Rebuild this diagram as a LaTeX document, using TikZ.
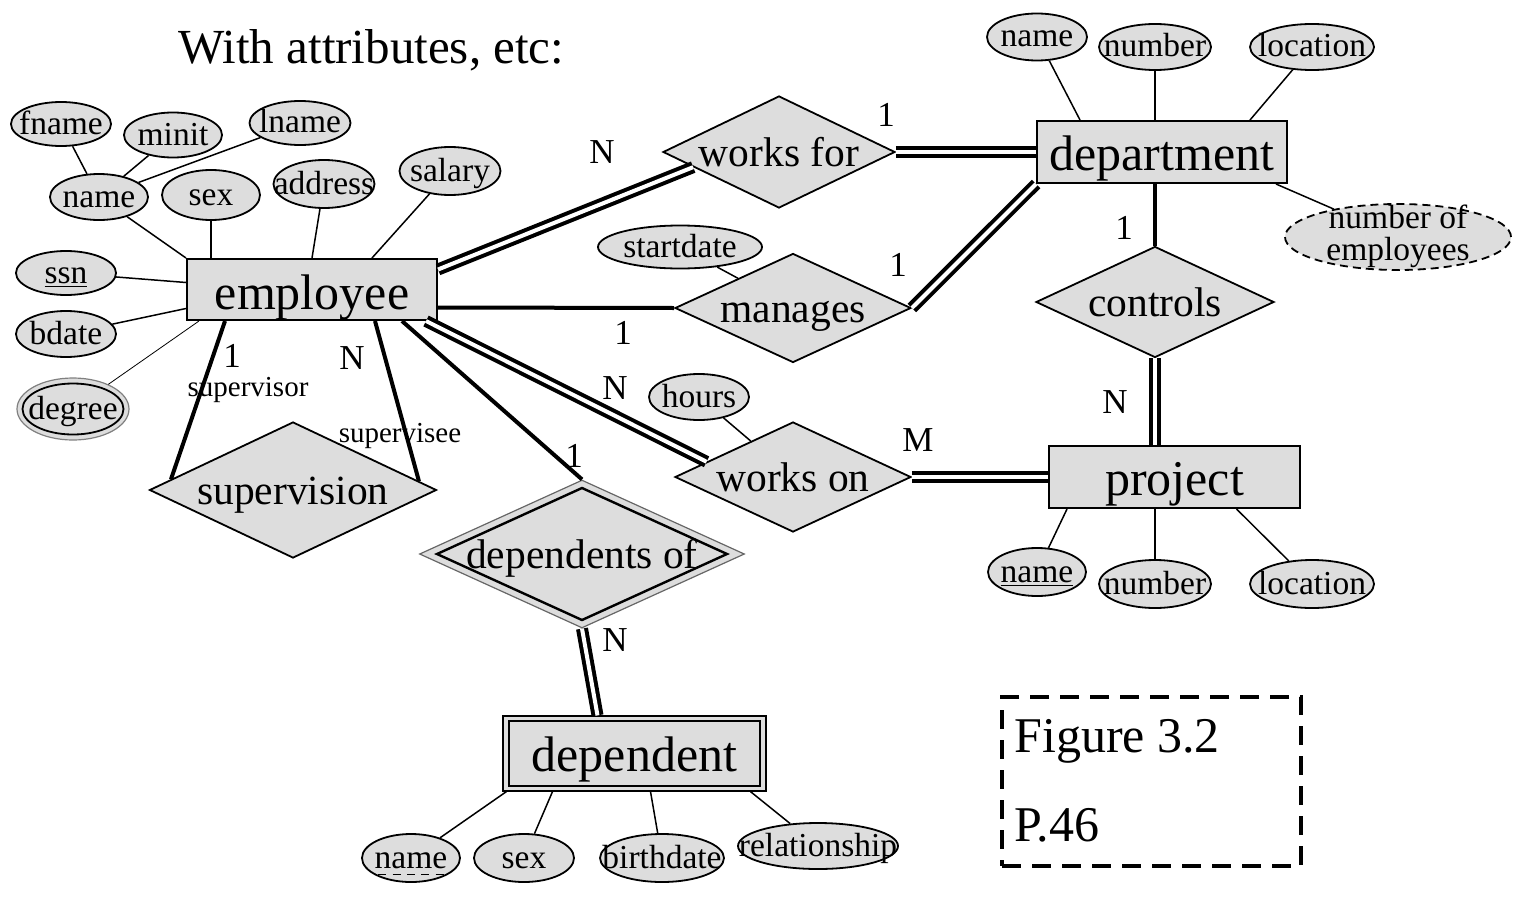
\documentclass[tikz,border=0pt]{standalone}
\usepackage{fontspec}
\setmainfont{Liberation Serif}
\usetikzlibrary{shapes.geometric}
\definecolor{shade}{RGB}{221,221,221}
\newcommand{\midtext}[1]{\makebox[0pt]{#1}}
\newcommand{\dashunder}[1]{\setbox0=\hbox{#1}\rlap{\raisebox{-3.5pt}{\hbox to \wd0{\xleaders\hbox to 6.5pt{\hfil\rule{4pt}{0.7pt}\hfil}\hfill}}}\box0}
\tikzset{entity/.style = {shape=rectangle,draw,fill=shade,line width=1pt,inner sep=0pt,minimum width=125pt,minimum height=31pt,text height=20pt,text depth=2pt,font=\fontsize{25}{28}\selectfont}}
\tikzset{relation/.style = {shape=diamond,draw,fill=shade,line width=0.9pt,inner sep=0pt,text height=14pt,text depth=0pt,font=\fontsize{20.75}{24}\selectfont}}
\tikzset{attr/.style = {shape=ellipse,draw,fill=shade,line width=0.9pt,inner sep=0pt,minimum width=50pt,minimum height=23pt,text height=10.5pt,text depth=0.5pt,font=\fontsize{16.75}{19}\selectfont}}
\tikzset{link/.style = {line width=0.75pt}}
\tikzset{onerel/.style = {line width=2pt}}
\tikzset{totalrel/.style = {line width=2pt,double,double distance=2pt}}
\tikzset{card/.style = {inner sep=0pt,font=\fontsize{17.5}{20}\selectfont}}
\tikzset{role/.style = {inner sep=0pt,font=\fontsize{14.5}{17}\selectfont}}

\begin{document}
\begin{tikzpicture}[x=0.5pt, y=-0.5pt]
        \useasboundingbox (0,0) rectangle (1513,899);

        \node[anchor=base west, inner sep=0pt, font=\fontsize{24.5}{28}\selectfont] (title) at (178,64) {With attributes, etc:};

        % entities
        \node[entity, minimum height=30.5pt, text height=22pt] (employee) at (312,289.5) {employee};
        \node[entity] (department) at (1162,152) {department};
        \node[entity, minimum width=125.5pt] (project) at (1174.5,477) {project};
        \node[entity, minimum width=131.5pt, minimum height=37.5pt, line width=0.6pt] (dependent) at (634.5,753.5) {};
        \node[entity, minimum width=125.5pt, minimum height=32.5pt, line width=1.3pt] (dependentin) at (dependent) {dependent};

        % relationships
        \node[relation, minimum width=116pt, minimum height=56pt] (worksfor) at (779,152) {\midtext{works for}};
        \node[relation, minimum width=118pt, minimum height=54.5pt] (manages) at (793,308) {\midtext{manages}};
        \node[relation, minimum width=119pt, minimum height=55.5pt] (controls) at (1155,302) {\midtext{controls}};
        \node[relation, minimum width=118pt, minimum height=55pt] (workson) at (793,477) {\midtext{works on}};
        \node[relation, minimum width=143.5pt, minimum height=68pt] (supervision) at (293,490) {\midtext{supervision}};
        \node[relation, minimum width=162.5pt, minimum height=74pt, draw=black!60, line width=0.6pt] (dependentsof) at (582,554) {};
        \node[relation, minimum width=145.5pt, minimum height=66.5pt, line width=1.2pt] (dependentsofin) at (dependentsof) {\midtext{dependents of}};

        % attributes
        \node[attr, minimum width=50pt, minimum height=22pt] (fname) at (61,124) {\midtext{fname}};
        \node[attr, minimum width=49pt, minimum height=22.5pt] (minit) at (173,135) {\midtext{minit}};
        \node[attr, minimum width=50.5pt, minimum height=22pt] (lname) at (300,123) {\midtext{lname}};
        \node[attr, minimum width=49pt, minimum height=23pt] (name) at (99,197) {\midtext{name}};
        \node[attr, minimum width=49pt, minimum height=25pt] (sex) at (211,195) {\midtext{sex}};
        \node[attr, minimum width=50.5pt, minimum height=24pt] (address) at (324,184) {\midtext{address}};
        \node[attr, minimum width=50.5pt, minimum height=24pt] (salary) at (450,171) {\midtext{salary}};
        \node[attr, minimum width=50pt, minimum height=22pt] (ssn) at (66,273) {\midtext{\underline{ssn}}};
        \node[attr, minimum width=50pt, minimum height=23pt] (bdate) at (66,334) {\midtext{bdate}};
        \node[attr, minimum width=56pt, minimum height=31pt, draw=black!50, line width=0.6pt] (degree) at (73,409) {};
        \node[attr, minimum width=50.5pt, minimum height=25.5pt] (degreein) at (degree) {\midtext{degree}};
        \node[attr, minimum width=82pt, minimum height=21.5pt] (startdate) at (680,247) {\midtext{startdate}};
        \node[attr, minimum width=50pt, minimum height=23pt] (hours) at (699,397) {\midtext{hours}};
        \node[attr, minimum width=50pt, minimum height=23.5pt] (dname) at (1037,37) {\midtext{name}};
        \node[attr, minimum width=56pt, minimum height=23pt] (dnumber) at (1155,47) {\midtext{number}};
        \node[attr, minimum width=62pt, minimum height=23pt] (dlocation) at (1312,47) {\midtext{location}};
        \node[attr, dashed, dash pattern=on 4pt off 2.5pt, minimum width=113pt, minimum height=33pt, text height=8.4pt, text depth=0pt] (numemp) at (1398,237) {\midtext{\begin{tabular}{@{}c@{}}number of\\[-3pt]employees\end{tabular}}};
        \node[attr, minimum width=49pt, minimum height=24pt] (pname) at (1037,572) {\midtext{\underline{name}}};
        \node[attr, minimum width=56pt, minimum height=24pt] (pnumber) at (1155,584) {\midtext{number}};
        \node[attr, minimum width=62pt, minimum height=24pt] (plocation) at (1312,584) {\midtext{location}};
        \node[attr, minimum width=49pt, minimum height=24pt] (depname) at (411,858) {\midtext{\dashunder{name}}};
        \node[attr, minimum width=50pt, minimum height=24pt] (depsex) at (524,858) {\midtext{sex}};
        \node[attr, minimum width=62pt, minimum height=24pt] (depbirth) at (662,858) {\midtext{birthdate}};
        \node[attr, minimum width=80pt, minimum height=23pt] (deprel) at (818,846) {\midtext{relationship}};

        % attribute links
        \draw[link] (fname) to (name);
        \draw[link] (minit) to (name);
        \draw[link] (lname) to (name);
        \draw[link] (name) to (employee.north west);
        \draw[link] (sex) to (sex |- employee.north);
        \draw[link] (address) to (employee.north);
        \draw[link] (salary) to ([xshift=30pt]employee.north);
        \draw[link] (ssn) to ([yshift=3.5pt]employee.west);
        \draw[link] (bdate) to ([yshift=-9.5pt]employee.west);
        \draw[line width=0.4pt] (degree) to ([xshift=6.5pt]employee.south west);
        \draw[link] (dname) to ([xshift=-41pt]department.north);
        \draw[link] (dnumber) to (dnumber |- department.north);
        \draw[link] (dlocation) to ([xshift=44pt]department.north);
        \draw[link] (numemp) to ([xshift=-6pt]department.south east);
        \draw[link] (pname) to ([xshift=9.5pt]project.south west);
        \draw[link] (pnumber) to (pnumber |- project.south);
        \draw[link] (plocation) to ([xshift=31pt]project.south);
        \draw[link] (depname) to ([xshift=2pt]dependent.south west);
        \draw[link] (depsex) to ([xshift=-41pt]dependent.south);
        \draw[link] (depbirth) to ([xshift=8pt]dependent.south);
        \draw[link] (deprel) to ([xshift=58pt]dependent.south);
        \draw[link] (startdate) to (manages);
        \draw[link] (hours) to (workson);

        % relationship links
        \draw[totalrel] ([yshift=10pt]employee.east) to (worksfor.190);
        \draw[totalrel] (worksfor.east) to (department.west);
        \draw[onerel] ([yshift=-9pt]employee.east) to (manages.west);
        \draw[totalrel] (manages.east) to (department.south west);
        \draw[totalrel] ([xshift=-6pt]employee.south east) to (workson.170);
        \draw[totalrel] (workson.east) to (project.west);
        \draw[onerel] (controls.north |- department.south) to (controls.north);
        \draw[totalrel] (controls.south) to (controls.south |- project.north);
        \draw[onerel] ([xshift=-43.5pt]employee.south) to (supervision.175);
        \draw[onerel] ([xshift=31.5pt]employee.south) to (supervision.4);
        \draw[onerel] ([xshift=-18pt]employee.south east) to (dependentsof.north);
        \draw[totalrel] (dependentsof.south) to ([xshift=-18.5pt]dependent.north);

        % cardinalities and roles
        \node[card] (wfN) at (602,152) {N};
        \node[card] (wf1) at (886,115) {1};
        \node[card] (mgdept1) at (898,265) {1};
        \node[card] (mgemp1) at (623,333) {1};
        \node[card] (woN) at (615,388) {N};
        \node[card] (woM) at (918,440) {M};
        \node[card] (ct1) at (1124,228) {1};
        \node[card] (ctN) at (1115,402) {N};
        \node[card] (sv1) at (232,356) {1};
        \node[card] (svN) at (352,358) {N};
        \node[card] (do1) at (574,456) {1};
        \node[card] (doN) at (615,640) {N};
        \node[role] (supervisor) at (248,390) {supervisor};
        \node[role] (supervisee) at (400,436) {supervisee};

        % figure box
        \node[draw, line width=2pt, dash pattern=on 9.5pt off 5.5pt, minimum width=149.5pt, minimum height=84.5pt] (figbox) at (1151.5,781.5) {};
        \node[anchor=base west, inner sep=0pt, font=\fontsize{25}{28}\selectfont] (figno) at (1014,752) {Figure 3.2};
        \node[anchor=base west, inner sep=0pt, font=\fontsize{25}{28}\selectfont] (figpage) at (1014,841) {P.46};
      \end{tikzpicture}
\end{document}
